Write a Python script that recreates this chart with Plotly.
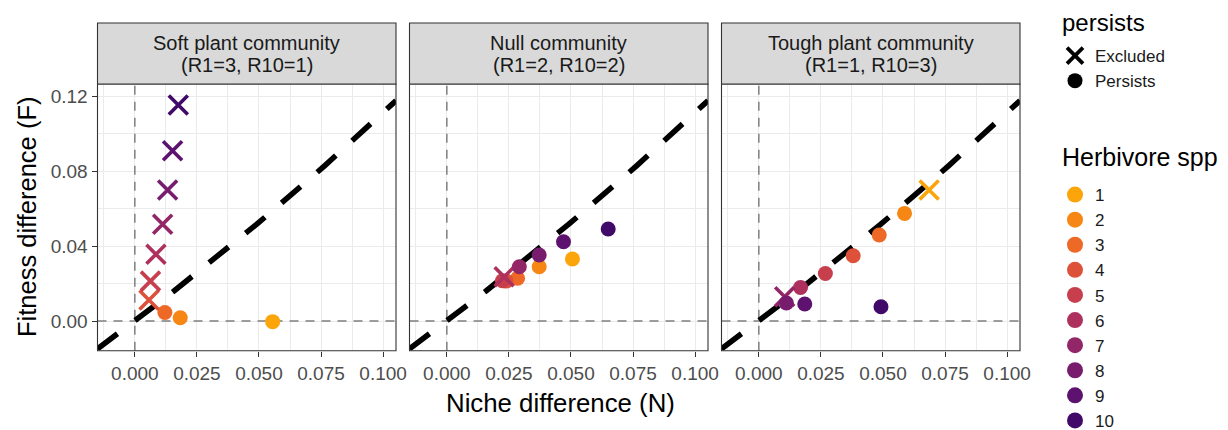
import numpy as np
import plotly.graph_objects as go

# ---------------- data ----------------
species = [str(i) for i in range(1, 11)]
spp_colors = ["#FCA50A", "#F68714", "#ED6925", "#DD513A", "#C73E4C",
              "#AE305C", "#932667", "#781C6D", "#5C126E", "#420A68"]

panel_titles = ["Soft plant community", "Null community", "Tough plant community"]
panel_subtitles = ["(R1=3, R10=1)", "(R1=2, R10=2)", "(R1=1, R10=3)"]

# Niche difference (N) per species 1..10
soft_N = [0.0555, 0.0183, 0.0121, 0.0057, 0.0063, 0.0085, 0.0112, 0.0132, 0.0152, 0.0175]
null_N = [0.0506, 0.0372, 0.0285, 0.0239, 0.0224, 0.0231, 0.0292, 0.0372, 0.0470, 0.0650]
tough_N = [0.0686, 0.0587, 0.0485, 0.0380, 0.0268, 0.0168, 0.0104, 0.0111, 0.0185, 0.0492]

# Fitness difference (F) per species 1..10
soft_F = [-0.0003, 0.0018, 0.0046, 0.0112, 0.0213, 0.0356, 0.0516, 0.0699, 0.0908, 0.1152]
null_F = [0.0331, 0.0290, 0.0228, 0.0213, 0.0215, 0.0236, 0.0290, 0.0352, 0.0423, 0.0491]
tough_F = [0.0699, 0.0574, 0.0459, 0.0348, 0.0254, 0.0179, 0.0130, 0.0096, 0.0091, 0.0076]

# persistence status per species 1..10
soft_status = ["Persists", "Persists", "Persists", "Excluded", "Excluded",
               "Excluded", "Excluded", "Excluded", "Excluded", "Excluded"]
null_status = ["Persists", "Persists", "Persists", "Persists", "Persists",
               "Excluded", "Persists", "Persists", "Persists", "Persists"]
tough_status = ["Excluded", "Persists", "Persists", "Persists", "Persists",
                "Persists", "Excluded", "Persists", "Persists", "Persists"]

status_levels = ["Excluded", "Persists"]

x_ticks = [0.0, 0.025, 0.05, 0.075, 0.1]
x_ticklabels = ["0.000", "0.025", "0.050", "0.075", "0.100"]
y_ticks = [0.0, 0.04, 0.08, 0.12]
y_ticklabels = ["0.00", "0.04", "0.08", "0.12"]

# ---------------- layout geometry ----------------
OFF = 8                      # page body margin of the html page
W, H = 1228 - OFF, 430 - OFF
x_range = [-0.01504, 0.1052]
y_range = [-0.0158, 0.1264]
panels_px = [(97.5, 396.0), (409.5, 708.0), (721.5, 1020.0)]   # in screenshot pixels
plot_top, plot_bot = 84.0, 350.7
strip_top = 23.0
FONT = "Liberation Sans, Arial"

def px(x):
    return (x - OFF) / W

def py(y):
    return 1 - (y - OFF) / H

fig = go.Figure()

panel_data = [(soft_N, soft_F, soft_status), (null_N, null_F, null_status),
              (tough_N, tough_F, tough_status)]

boundary_x = np.linspace(x_range[0], x_range[1], 200)
boundary_y = boundary_x / (1 - boundary_x)

for i, (N, F, status) in enumerate(panel_data):
    xa = "x" if i == 0 else f"x{i+1}"
    ya = "y" if i == 0 else f"y{i+1}"
    # zero reference lines
    fig.add_trace(go.Scatter(x=[0, 0], y=y_range, mode="lines", xaxis=xa, yaxis=ya,
                             line=dict(color="#7F7F7F", width=1.5, dash="9px,7px"),
                             showlegend=False, hoverinfo="skip"))
    fig.add_trace(go.Scatter(x=x_range, y=[0, 0], mode="lines", xaxis=xa, yaxis=ya,
                             line=dict(color="#7F7F7F", width=1.5, dash="9px,7px"),
                             showlegend=False, hoverinfo="skip"))
    # coexistence boundary
    fig.add_trace(go.Scatter(x=boundary_x, y=boundary_y, mode="lines", xaxis=xa, yaxis=ya,
                             line=dict(color="black", width=5.5, dash="25px,22px"),
                             showlegend=False, hoverinfo="skip"))
    symbols = ["x-thin" if s == "Excluded" else "circle" for s in status]
    sizes = [19 if s == "Excluded" else 15 for s in status]
    lw = [3.6 if s == "Excluded" else 0 for s in status]
    fig.add_trace(go.Scatter(x=N, y=F, mode="markers", xaxis=xa, yaxis=ya,
                             marker=dict(symbol=symbols, size=sizes, color=spp_colors,
                                         opacity=1,
                                         line=dict(color=spp_colors, width=lw)),
                             showlegend=False))

    x0, x1 = panels_px[i]
    ax_common = dict(range=x_range, tickvals=x_ticks, ticktext=x_ticklabels,
                     showgrid=True, gridcolor="#EBEBEB", gridwidth=1.3,
                     minor=dict(dtick=0.0125, tick0=0, showgrid=True, gridcolor="#EBEBEB",
                                gridwidth=0.7, ticks=""),
                     zeroline=False, showline=False, ticks="outside", ticklen=5,
                     tickcolor="#333333", tickwidth=1.1, automargin=False,
                     tickfont=dict(family=FONT, size=19, color="#4D4D4D"),
                     domain=[px(x0), px(x1)], anchor=ya)
    fig.layout[("xaxis" if i == 0 else f"xaxis{i+1}")] = ax_common
    ay_common = dict(range=y_range, tickvals=y_ticks, ticktext=y_ticklabels,
                     showgrid=True, gridcolor="#EBEBEB", gridwidth=1.3,
                     minor=dict(dtick=0.02, tick0=0, showgrid=True, gridcolor="#EBEBEB",
                                gridwidth=0.7, ticks=""),
                     zeroline=False, showline=False,
                     ticks="outside" if i == 0 else "", ticklen=5,
                     tickcolor="#333333", tickwidth=1.1, automargin=False,
                     showticklabels=(i == 0),
                     tickfont=dict(family=FONT, size=19, color="#4D4D4D"),
                     domain=[py(plot_bot), py(plot_top)], anchor=xa)
    fig.layout[("yaxis" if i == 0 else f"yaxis{i+1}")] = ay_common

    # panel border
    fig.add_shape(type="rect", xref="paper", yref="paper",
                  x0=px(x0), x1=px(x1), y0=py(plot_bot), y1=py(plot_top),
                  line=dict(color="#333333", width=1.1), fillcolor="rgba(0,0,0,0)", layer="above")
    # strip
    fig.add_shape(type="rect", xref="paper", yref="paper",
                  x0=px(x0), x1=px(x1), y0=py(plot_top), y1=py(strip_top),
                  line=dict(color="#333333", width=1.1), fillcolor="#D9D9D9", layer="above")
    fig.add_annotation(xref="paper", yref="paper", x=px((x0 + x1) / 2), y=py(43.5),
                       text=panel_titles[i], showarrow=False, xanchor="center", yanchor="middle",
                       font=dict(family=FONT, size=20, color="#1A1A1A"))
    fig.add_annotation(xref="paper", yref="paper", x=px((x0 + x1) / 2), y=py(65),
                       text=panel_subtitles[i], showarrow=False, xanchor="center", yanchor="middle",
                       font=dict(family=FONT, size=20, color="#1A1A1A"))

# axis titles
fig.add_annotation(xref="paper", yref="paper", x=px(560), y=py(403),
                   text="Niche difference (N)", showarrow=False, xanchor="center", yanchor="middle",
                   font=dict(family=FONT, size=25.8, color="black"))
fig.add_annotation(xref="paper", yref="paper", x=px(27), y=py(217),
                   text="Fitness difference (F)", showarrow=False, textangle=-90,
                   xanchor="center", yanchor="middle",
                   font=dict(family=FONT, size=25.5, color="black"))

# legend titles
fig.add_annotation(xref="paper", yref="paper", x=px(1061), y=py(23),
                   text="persists", showarrow=False, xanchor="left", yanchor="middle",
                   borderpad=0,
                   font=dict(family=FONT, size=24, color="black"))
fig.add_annotation(xref="paper", yref="paper", x=px(1061), y=py(157),
                   text="Herbivore spp", showarrow=False, xanchor="left", yanchor="middle",
                   borderpad=0,
                   font=dict(family=FONT, size=25, color="black"))

# legend entries
fig.add_trace(go.Scatter(x=[None], y=[None], mode="markers", name=status_levels[0],
                         marker=dict(symbol="x-thin", size=16, color="black",
                                     line=dict(color="black", width=3.8)),
                         legend="legend"))
fig.add_trace(go.Scatter(x=[None], y=[None], mode="markers", name=status_levels[1],
                         marker=dict(symbol="circle", size=15, color="black"),
                         legend="legend"))
for s, c in zip(species, spp_colors):
    fig.add_trace(go.Scatter(x=[None], y=[None], mode="markers", name=s,
                             marker=dict(symbol="circle", size=17, color=c),
                             legend="legend2"))

legend_font = dict(family=FONT, size=17, color="#1A1A1A")
fig.update_layout(
    width=W, height=H,
    margin=dict(l=0, r=0, t=0, b=0, autoexpand=False),
    paper_bgcolor="white", plot_bgcolor="white",
    legend=dict(x=px(1055), y=py(38), xanchor="left", yanchor="top",
                font=legend_font, bgcolor="rgba(0,0,0,0)", tracegroupgap=0, itemsizing="trace"),
    legend2=dict(x=px(1055), y=py(177), xanchor="left", yanchor="top",
                 font=legend_font, bgcolor="rgba(0,0,0,0)", tracegroupgap=0, itemsizing="trace"),
)

fig.write_html("out.html")
